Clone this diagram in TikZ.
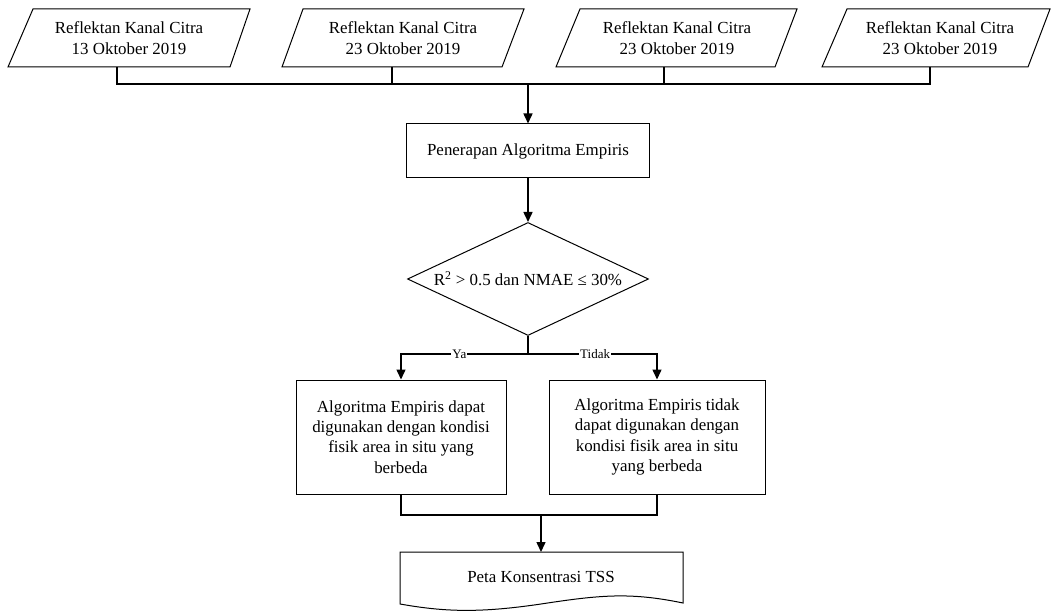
\documentclass[tikz,border=0pt]{standalone}
\usepackage{fontspec}
\setmainfont{Liberation Serif}
\usetikzlibrary{arrows.meta,shapes.geometric}
\tikzset{
  shapeline/.style={draw=black,line width=1},
  conn/.style={draw=black,line width=1.5},
  arr/.style={conn,-{Triangle[length=10,width=9]}},
  txt/.style={font=\fontsize{16.9}{20.3}\selectfont,align=center,inner sep=0},
  procbox/.style={shapeline,txt,rectangle},
  lbl/.style={font=\fontsize{13}{15}\selectfont,fill=white,inner sep=1}
}
\begin{document}
\begin{tikzpicture}[x=1pt,y=-1pt]
\useasboundingbox (0,0) rectangle (1052,612);
% input parallelograms
\draw[shapeline] (33,9) -- (250,9) -- (230,67) -- (8,67) -- cycle;
\draw[shapeline] (303,9) -- (524,9) -- (502,67) -- (282,67) -- cycle;
\draw[shapeline] (580,9) -- (797,9) -- (775,67) -- (556,67) -- cycle;
\draw[shapeline] (847,9) -- (1050,9) -- (1028,67) -- (822,67) -- cycle;
\node[txt] (in1) at (129,38) {Reflektan Kanal Citra\\13 Oktober 2019};
\node[txt] (in2) at (403,38) {Reflektan Kanal Citra\\23 Oktober 2019};
\node[txt] (in3) at (677,38) {Reflektan Kanal Citra\\23 Oktober 2019};
\node[txt] (in4) at (940,38) {Reflektan Kanal Citra\\23 Oktober 2019};
\coordinate (p1b) at (117,67);
\coordinate (p2b) at (392,67);
\coordinate (p3b) at (664,67);
\coordinate (p4b) at (930,67);
\coordinate (join) at (528,84);
% process box
\node[procbox,minimum width=243,minimum height=54] (alg) at (528,151) {Penerapan Algoritma Empiris};
% decision
\node[shapeline,txt,diamond,aspect=2.13,minimum width=241,minimum height=113] (cond) at (528,279) {R\textsuperscript{2} > 0.5 dan NMAE ≤ 30\%};
\coordinate (split) at (528,354);
% result boxes
\node[procbox,minimum width=210,minimum height=114] (yes) at (401,437) {Algoritma Empiris dapat\\digunakan dengan kondisi\\fisik area in situ yang\\berbeda};
\node[procbox,minimum width=216,minimum height=114] (no) at (657,437) {Algoritma Empiris tidak\\dapat digunakan dengan\\kondisi fisik area in situ\\yang berbeda};
\coordinate (merge) at (541,515);
% output document
\draw[shapeline] (400,552) -- (683,552) -- (683,603)
  .. controls (630,592) and (600,595) .. (541,604)
  .. controls (480,613) and (445,612) .. (400,604) -- cycle;
\node[txt] (doc) at (541,577) {Peta Konsentrasi TSS};
\coordinate (doctop) at (541,552);
% connectors
\draw[conn] (p1b) -- (p1b |- join) -- (p4b |- join) -- (p4b);
\draw[conn] (p2b) -- (p2b |- join);
\draw[conn] (p3b) -- (p3b |- join);
\draw[arr] (join) -- (alg.north);
\draw[arr] (alg.south) -- (cond.north);
\draw[conn] (cond.south) -- (split);
\draw[arr] (split) -| node[lbl,pos=0.27] {Ya} (yes.north);
\draw[arr] (split) -| node[lbl,pos=0.26] {Tidak} (no.north);
\draw[conn] (yes.south) -- (yes.south |- merge) -- (no.south |- merge) -- (no.south);
\draw[arr] (merge) -- (doctop);
\end{tikzpicture}
\end{document}
